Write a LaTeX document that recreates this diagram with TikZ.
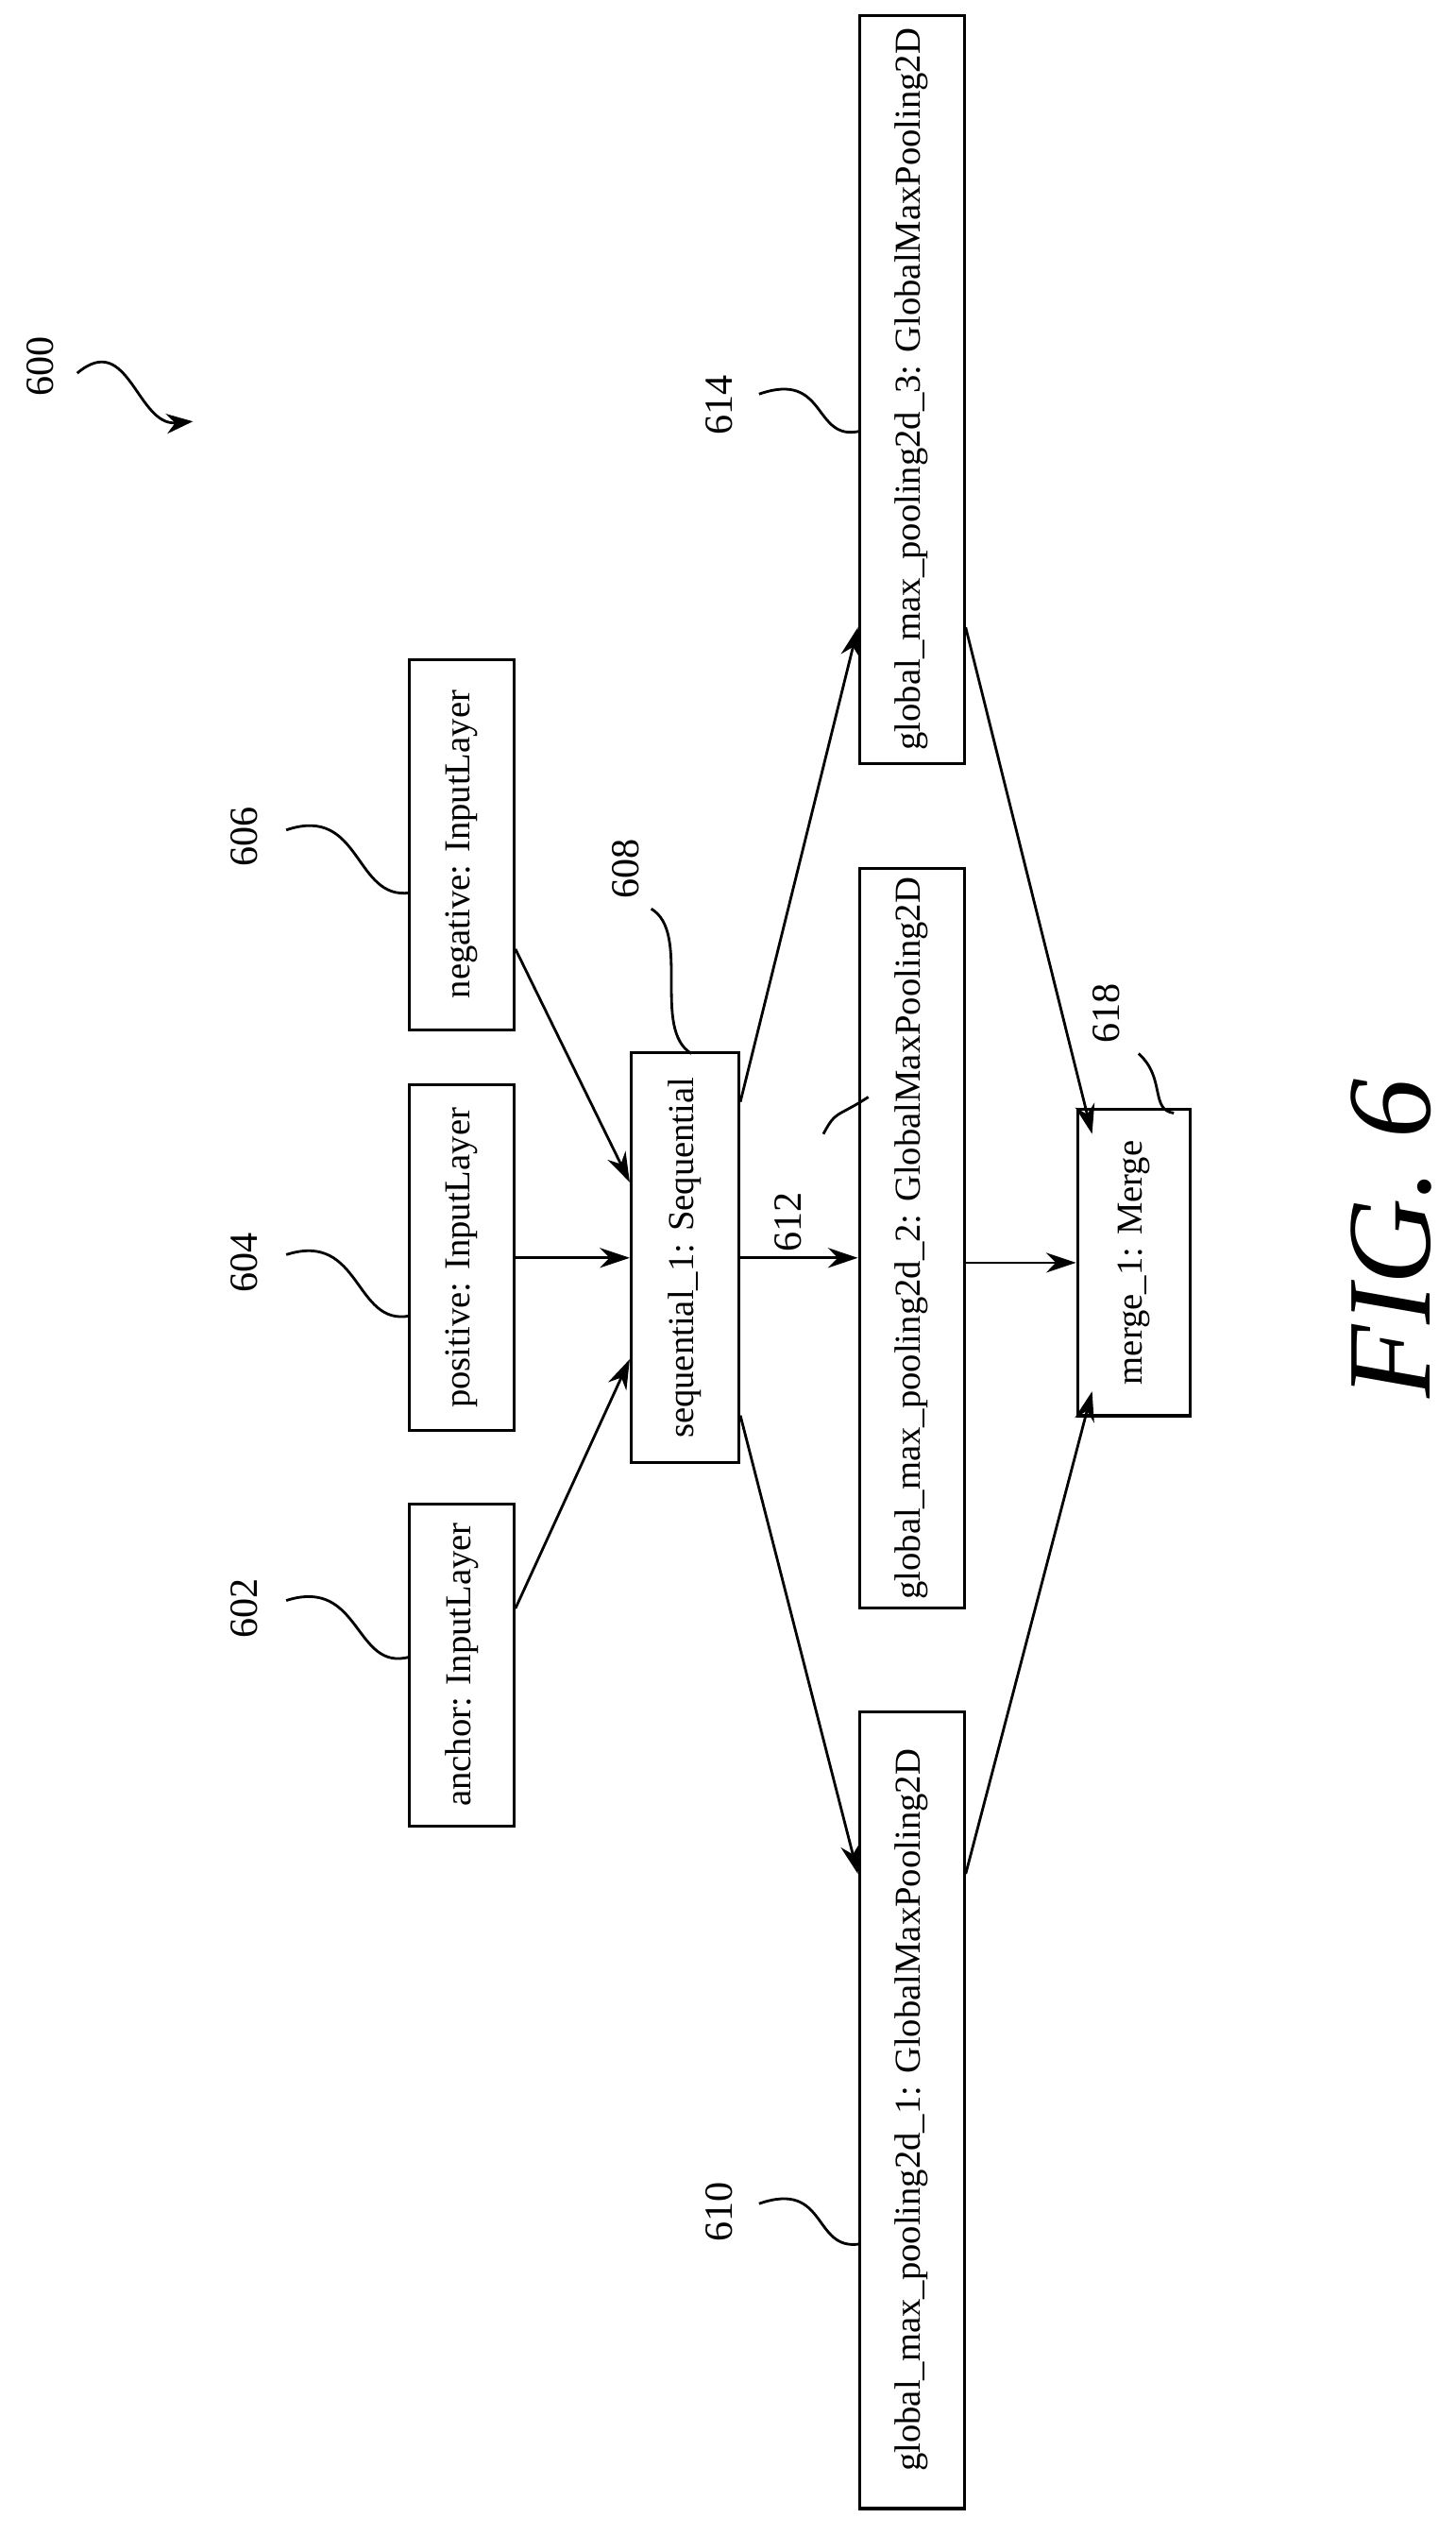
\documentclass[tikz,border=0pt]{standalone}
\usepackage{fontspec}
\setmainfont{Liberation Serif}
\usetikzlibrary{calc, arrows.meta}

\tikzset{
  layer/.style={draw, line width=0.9pt, rotate=90, inner sep=2pt,
                minimum height=1.11cm, font=\fontsize{11}{13}\selectfont},
  flow/.style={-{Stealth[length=9pt,width=6pt]}, line width=0.8pt},
  lead/.style={line width=0.8pt},
  ref/.style={rotate=90, font=\fontsize{12}{14}\selectfont}
}

\begin{document}
\begin{tikzpicture}[x=0.01703cm, y=-0.01703cm]
\useasboundingbox (0,0) rectangle (905,1576);

% layers
\node[layer, minimum width=3.41cm] (anchor) at (287,1035) {anchor: InputLayer};
\node[layer, minimum width=3.66cm] (positive) at (287,782) {positive: InputLayer};
\node[layer, minimum width=3.92cm] (negative) at (287,525) {negative: InputLayer};
\node[layer, minimum width=4.34cm, minimum height=1.14cm] (seq) at (426,782) {sequential\_1: Sequential};
\node[layer, minimum width=7.83cm] (gmpb) at (567,770) {global\_max\_pooling2d\_2: GlobalMaxPooling2D};
\node[layer, minimum width=8.43cm] (gmpa) at (567,1312) {global\_max\_pooling2d\_1: GlobalMaxPooling2D};
\node[layer, minimum width=7.92cm] (gmpc) at (567,242) {global\_max\_pooling2d\_3: GlobalMaxPooling2D};
\node[layer, minimum width=3.24cm, minimum height=1.19cm] (merge) at (705,785) {merge\_1: Merge};

% connectors
\draw[flow] ($(anchor.south)+(0,-35)$) -- ($(seq.north)+(0,63)$);
\draw[flow] (positive.south) -- (positive.south -| seq.north);
\draw[flow] ($(negative.south)+(0,65)$) -- ($(seq.north)+(0,-47)$);
\draw[flow] (seq.south) -- (seq.south -| gmpb.north);
\draw[flow] ($(seq.south)+(0,-97)$) -- ($(gmpc.north)+(0,148)$);
\draw[flow] ($(seq.south)+(0,98)$) -- ($(gmpa.north)+(0,-147)$);
\draw[flow] (gmpb.south |- merge.north) -- (merge.north);
\draw[flow] ($(gmpc.south)+(0,148)$) -- ($(merge.north)+(10,-80)$);
\draw[flow] ($(gmpa.south)+(0,-147)$) -- ($(merge.north)+(10,80)$);

% reference numerals
\node[ref] (n600) at (25,228) {600};
\node[ref] (n602) at (152,1000) {602};
\node[ref] (n604) at (152,785) {604};
\node[ref] (n606) at (152,520) {606};
\node[ref] (n608) at (389,540) {608};
\node[ref] (n610) at (447,1375) {610};
\node[ref] (n612) at (490,760) {612};
\node[ref] (n614) at (447,252) {614};
\node[ref] (n618) at (688,630) {618};

% leaders
\draw[lead, -{Stealth[length=8pt,width=6pt]}] (48,232) .. controls (80,205) and (85,265) .. (120,262);
\draw[lead] (178,995) .. controls (225,980) and (220,1040) .. (255,1030);
\draw[lead] (178,780) .. controls (225,765) and (220,825) .. (255,818);
\draw[lead] (178,516) .. controls (225,500) and (220,560) .. (255,555);
\draw[lead] (405,565) .. controls (430,580) and (405,640) .. (430,655);
\draw[lead] (472,1370) .. controls (515,1355) and (505,1400) .. (535,1395);
\draw[lead] (512,705) .. controls (520,690) and (520,695) .. (540,682);
\draw[lead] (472,245) .. controls (515,230) and (505,275) .. (535,268);
\draw[lead] (708,655) .. controls (725,670) and (715,690) .. (730,692);

% figure label
\node[rotate=90, font=\fontsize{36}{40}\selectfont\itshape] (fig) at (865,770) {FIG. 6};
\end{tikzpicture}
\end{document}
